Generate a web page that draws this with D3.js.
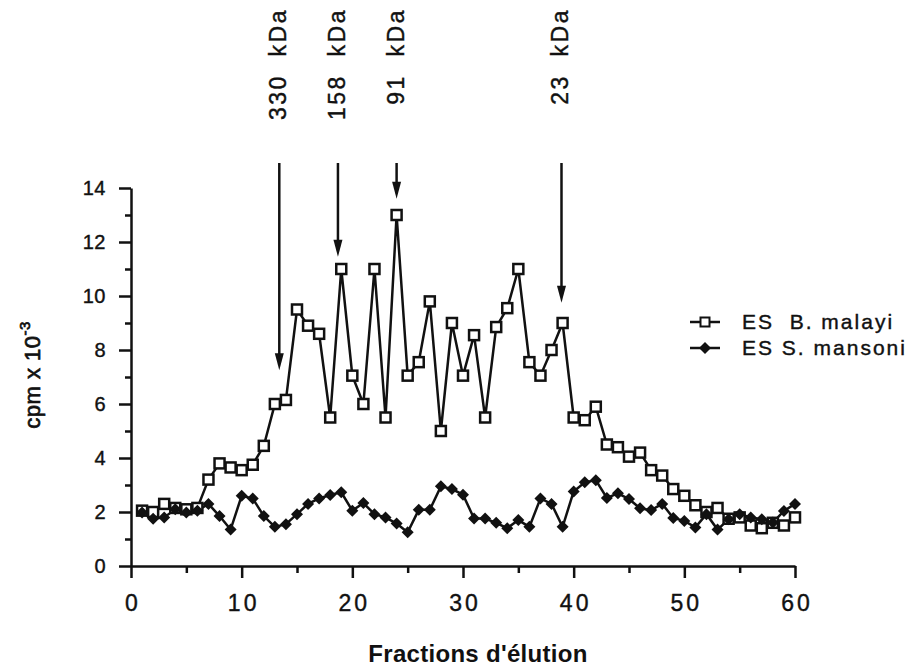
<!DOCTYPE html>
<html>
<head>
<meta charset="utf-8">
<script src="https://cdn.jsdelivr.net/npm/d3@7"></script>
<style>
  body { margin: 0; background: #fff; }
  svg text { font-family: 'Liberation Sans', Arial, Helvetica, sans-serif; fill: #111; stroke: #111; stroke-width: 0.4px; }
</style>
</head>
<body>
<div id="chart"></div>
<script>
// fraction numbers and cpm x 10^-3
const fractions = d3.range(1, 61)
const malayi = [2.05, 2.0, 2.3, 2.15, 2.1, 2.15, 3.2, 3.8, 3.65, 3.55,
  3.75, 4.45, 6.0, 6.15, 9.5, 8.9, 8.6, 5.5, 11.0, 7.05,
  6.0, 11.0, 5.5, 13.0, 7.05, 7.55, 9.8, 5.0, 9.0, 7.05,
  8.55, 5.5, 8.85, 9.55, 11.0, 7.55, 7.05, 8.0, 9.0, 5.5,
  5.4, 5.9, 4.5, 4.4, 4.05, 4.2, 3.55, 3.35, 2.85, 2.6,
  2.25, 2.0, 2.15, 1.75, 1.8, 1.5, 1.4, 1.6, 1.5, 1.8]
const mansoni = [1.98, 1.75, 1.8, 2.1, 1.98, 2.05, 2.3, 1.85, 1.35, 2.6,
  2.5, 1.85, 1.45, 1.55, 1.92, 2.3, 2.5, 2.63, 2.73, 2.05,
  2.33, 1.92, 1.8, 1.57, 1.25, 2.08, 2.08, 2.95, 2.85, 2.64,
  1.76, 1.76, 1.6, 1.4, 1.7, 1.45, 2.5, 2.3, 1.45, 2.76,
  3.1, 3.18, 2.52, 2.69, 2.48, 2.14, 2.07, 2.3, 1.78, 1.67,
  1.43, 1.92, 1.35, 1.73, 1.92, 1.8, 1.73, 1.61, 2.04, 2.3]

const xTicks = [0, 10, 20, 30, 40, 50, 60]
const xMinorTicks = [5, 15, 25, 35, 45, 55]
const yTicks = [0, 2, 4, 6, 8, 10, 12, 14]
const yMinorTicks = [1, 3, 5, 7, 9, 11, 13]

// molecular weight markers: label, fraction, where the arrow stops (cpm)
const kdaLabels = ['330  kDa', '158  kDa', '91  kDa', '23  kDa']
const kdaFractions = [13.4, 18.7, 24.0, 38.9]
const kdaTips = [7.25, 11.45, 13.6, 9.75]

const legendLabels = ['ES  B. malayi', 'ES S. mansoni']

const width = 913, height = 669
const svg = d3.select('#chart').append('svg')
  .attr('width', width)
  .attr('height', height)

const xScale = d3.scaleLinear().domain([0, 60]).range([131, 795])
const yScale = d3.scaleLinear().domain([0, 14]).range([566, 188])

const styleAxis = g => {
  g.attr('font-size', null).attr('font-family', null)
  g.selectAll('path, line').attr('stroke', '#111').attr('stroke-width', 2.5)
}

// x axis
svg.append('g')
  .attr('transform', `translate(0, ${yScale(0)})`)
  .call(d3.axisBottom(xScale).tickValues(xMinorTicks).tickSize(7).tickFormat(''))
  .call(g => g.select('.domain').remove())
  .call(styleAxis)
svg.append('g')
  .attr('transform', `translate(0, ${yScale(0)})`)
  .call(d3.axisBottom(xScale).tickValues(xTicks).tickSize(12).tickSizeOuter(0).tickPadding(17))
  .call(styleAxis)
  .call(g => g.selectAll('text').style('font-size', '23px').style('letter-spacing', '3px')
    .attr('dx', '1.5px'))

// y axis
svg.append('g')
  .attr('transform', `translate(${xScale(0)}, 0)`)
  .call(d3.axisLeft(yScale).tickValues(yMinorTicks).tickSize(6).tickFormat(''))
  .call(g => g.select('.domain').remove())
  .call(styleAxis)
svg.append('g')
  .attr('transform', `translate(${xScale(0)}, 0)`)
  .call(d3.axisLeft(yScale).tickValues(yTicks).tickSize(12).tickSizeOuter(0).tickPadding(13))
  .call(styleAxis)
  .call(g => g.selectAll('text').style('font-size', '20px').style('letter-spacing', '0.5px'))

// axis titles
svg.append('text')
  .attr('transform', 'translate(40, 375) rotate(-90)')
  .attr('text-anchor', 'middle')
  .style('font-size', '22px')
  .style('stroke-width', '0.7px')
  .style('letter-spacing', '0.5px')
  .text('cpm x 10')
  .append('tspan')
  .attr('dy', -10)
  .style('font-size', '15px')
  .text('-3')

svg.append('text')
  .attr('x', 478)
  .attr('y', 662)
  .attr('text-anchor', 'middle')
  .style('font-size', '24px')
  .style('font-weight', 'bold')
  .style('stroke-width', '0px')
  .style('letter-spacing', '0.3px')
  .text("Fractions d'élution")

// series
const line = d3.line()
  .x((d, i) => xScale(fractions[i]))
  .y(d => yScale(d))

svg.append('path')
  .datum(malayi)
  .attr('d', line)
  .attr('fill', 'none')
  .attr('stroke', '#111')
  .attr('stroke-width', 2.5)

svg.append('path')
  .datum(mansoni)
  .attr('d', line)
  .attr('fill', 'none')
  .attr('stroke', '#111')
  .attr('stroke-width', 2.5)

const diamond = d3.symbol(d3.symbolSquare, 72)

svg.append('g')
  .selectAll('rect')
  .data(malayi)
  .enter().append('rect')
  .attr('x', (d, i) => xScale(fractions[i]) - 5)
  .attr('y', d => yScale(d) - 5)
  .attr('width', 10)
  .attr('height', 10)
  .attr('fill', '#fff')
  .attr('stroke', '#111')
  .attr('stroke-width', 2.5)

svg.append('g')
  .selectAll('path')
  .data(mansoni)
  .enter().append('path')
  .attr('d', diamond)
  .attr('transform', (d, i) => `translate(${xScale(fractions[i])}, ${yScale(d)}) rotate(45)`)
  .attr('fill', '#111')

// kDa markers
const arrowTop = 163
const marker = svg.append('g')
  .selectAll('g')
  .data(kdaLabels)
  .enter().append('g')

marker.append('line')
  .attr('x1', (d, i) => xScale(kdaFractions[i]))
  .attr('x2', (d, i) => xScale(kdaFractions[i]))
  .attr('y1', arrowTop)
  .attr('y2', (d, i) => yScale(kdaTips[i]) - 14)
  .attr('stroke', '#111')
  .attr('stroke-width', 2.5)

marker.append('path')
  .attr('d', (d, i) => {
    const x = xScale(kdaFractions[i]), y = yScale(kdaTips[i])
    return `M${x - 4.5},${y - 17}L${x + 4.5},${y - 17}L${x},${y}Z`
  })
  .attr('fill', '#111')

marker.append('text')
  .attr('transform', (d, i) => `translate(${xScale(kdaFractions[i]) + 7}, 8) rotate(-90)`)
  .attr('text-anchor', 'end')
  .style('font-size', '23px')
  .style('letter-spacing', '2.5px')
  .style('white-space', 'pre')
  .text(d => d)

// legend
const legend = svg.append('g')
  .selectAll('g')
  .data(legendLabels)
  .enter().append('g')
  .attr('transform', (d, i) => `translate(690, ${322 + i * 26})`)

legend.append('line')
  .attr('x1', 0).attr('x2', 30)
  .attr('stroke', '#111').attr('stroke-width', 2.5)

legend.filter((d, i) => i === 0).append('rect')
  .attr('x', 10.5).attr('y', -4.5)
  .attr('width', 9).attr('height', 9)
  .attr('fill', '#fff').attr('stroke', '#111').attr('stroke-width', 2)

legend.filter((d, i) => i === 1).append('path')
  .attr('d', diamond)
  .attr('transform', 'translate(15, 0) rotate(45)')
  .attr('fill', '#111')

legend.append('text')
  .attr('x', 52)
  .attr('y', 7)
  .style('font-size', '21px')
  .style('letter-spacing', '2px')
  .style('white-space', 'pre')
  .text(d => d)
</script>
</body>
</html>
